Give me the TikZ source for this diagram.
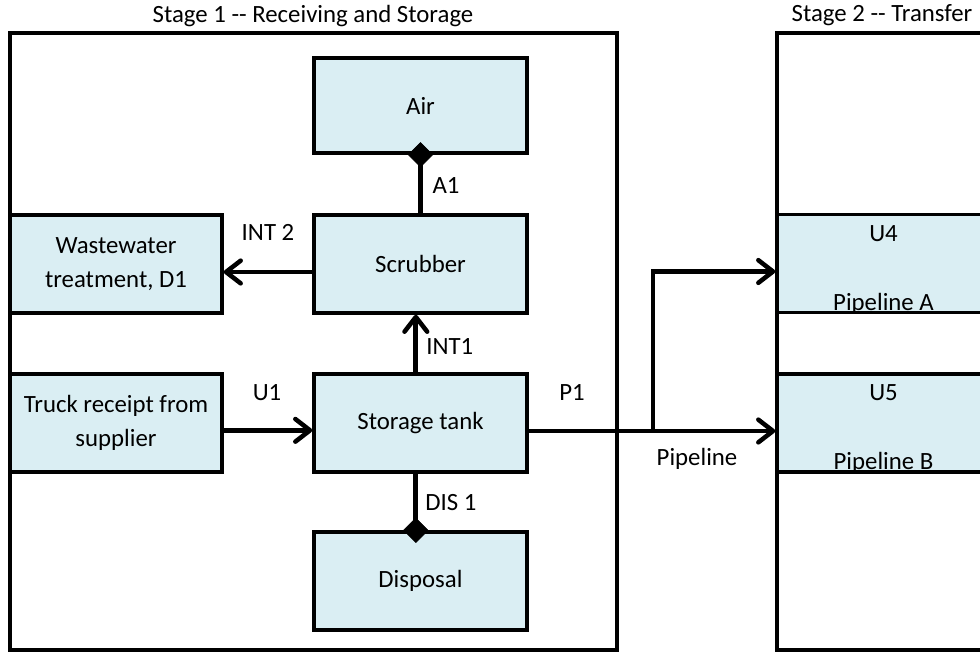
\documentclass[tikz,border=0pt]{standalone}
\usepackage{fontspec}
\setmainfont{Carlito}
\usetikzlibrary{arrows.meta}
\definecolor{boxfill}{HTML}{DAEEF3}
\newcommand{\dd}{\mbox{-}\mbox{-}}
\begin{document}
\begin{tikzpicture}[x=0.75pt,y=-0.75pt,
  every node/.style={font=\fontsize{18.6}{25.5}\selectfont},
  stagebox/.style={draw=black,line width=2.3pt},
  procbox/.style={draw=black,fill=boxfill,line width=2.6pt,minimum width=159.75pt,
    minimum height=73.5pt,inner sep=0pt,align=center},
  flow/.style={line width=3.6pt,-{Straight Barb[length=11pt,width=17pt,line width=3.4pt,round]}},
  dlink/.style={line width=3.6pt,-{Diamond[length=19pt,width=19pt,line width=0.5pt]},shorten >=-9.5pt},
  lbl/.style={inner sep=0pt}
]
\useasboundingbox (0,0) rectangle (980,652);
\clip (0,0) rectangle (980,652);
% stage containers
\draw[stagebox] (10,33) rectangle (617,650);
\draw[stagebox] (777,33) rectangle (990,650);
\node[lbl] (t1) at (313,16) {Stage 1 \dd{} Receiving and Storage};
\node[lbl] (t2) at (882,15) {Stage 2 \dd{} Transfer};
% process boxes
\node[procbox,minimum height=71.25pt] (air) at (420.5,105.5) {Air};
\node[procbox] (scrub) at (420.5,264) {Scrubber};
\node[procbox] (tank) at (420.5,423) {Storage tank};
\node[procbox] (disp) at (420.5,581) {Disposal};
\node[procbox,minimum width=159pt] (ww) at (116,264) {Wastewater\\treatment, D1};
\node[procbox,minimum width=159pt] (truck) at (116,423) {Truck receipt from\\supplier};
\node[procbox] (u4) at (883.5,263.5) {};
\node[procbox] (u5) at (883.5,423) {};
\draw[line width=2.3pt] (777,33) -- (777,650);
\node[lbl] (u4t) at ([yshift=-15.5pt]u4.north) {U4};
\node[lbl] (u4b) at ([yshift=8pt]u4.south) {Pipeline A};
\node[lbl] (u5t) at ([yshift=-15.5pt]u5.north) {U5};
\node[lbl] (u5b) at ([yshift=8pt]u5.south) {Pipeline B};
% connectors
\draw[dlink] (scrub.north) -- (air.south);
\draw[dlink] ([xshift=-3.5pt]tank.south) -- ([xshift=-3.5pt]disp.north);
\draw[flow] ([xshift=-3.5pt]tank.north) -- ([xshift=-3.5pt]scrub.south);
\draw[flow] ([yshift=-6pt]scrub.west) -- ([yshift=-6pt]ww.east);
\draw[flow] ([yshift=-5.5pt]truck.east) -- ([yshift=-5.5pt]tank.west);
\coordinate (br) at (653,431);
\coordinate (u4in) at ([yshift=-6pt]u4.west);
\draw[flow] ([yshift=-6pt]tank.east) -- ([yshift=-6pt]u5.west);
\draw[flow] (br) -- (br |- u4in) -- (u4in);
% labels
\node[lbl] (la1) at (446,186) {A1};
\node[lbl] (lint2) at (268,232) {INT 2};
\node[lbl, anchor=west] (lint1) at (426,347) {INT1};
\node[lbl] (lu1) at (267,393) {U1};
\node[lbl] (ldis) at (451,503) {DIS 1};
\node[lbl] (lp1) at (572,393) {P1};
\node[lbl] (lpipe) at (697,459) {Pipeline};
\end{tikzpicture}
\end{document}
